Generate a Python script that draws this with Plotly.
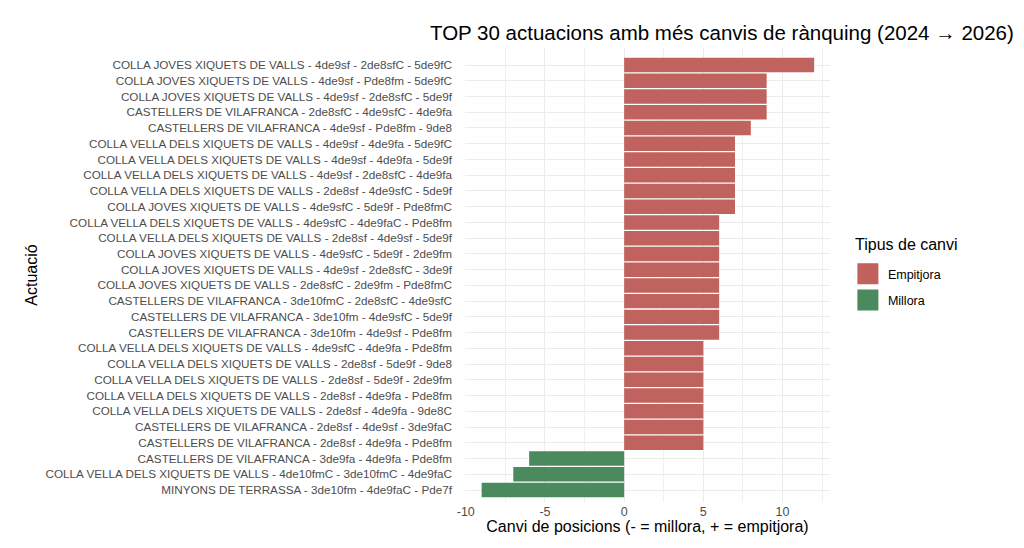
import plotly.graph_objects as go

# actuacions (de dalt a baix) i canvi de posicions
actuacions = [
    "COLLA JOVES XIQUETS DE VALLS - 4de9sf - 2de8sfC - 5de9fC",
    "COLLA JOVES XIQUETS DE VALLS - 4de9sf - Pde8fm - 5de9fC",
    "COLLA JOVES XIQUETS DE VALLS - 4de9sf - 2de8sfC - 5de9f",
    "CASTELLERS DE VILAFRANCA - 2de8sfC - 4de9sfC - 4de9fa",
    "CASTELLERS DE VILAFRANCA - 4de9sf - Pde8fm - 9de8",
    "COLLA VELLA DELS XIQUETS DE VALLS - 4de9sf - 4de9fa - 5de9fC",
    "COLLA VELLA DELS XIQUETS DE VALLS - 4de9sf - 4de9fa - 5de9f",
    "COLLA VELLA DELS XIQUETS DE VALLS - 4de9sf - 2de8sfC - 4de9fa",
    "COLLA VELLA DELS XIQUETS DE VALLS - 2de8sf - 4de9sfC - 5de9f",
    "COLLA JOVES XIQUETS DE VALLS - 4de9sfC - 5de9f - Pde8fmC",
    "COLLA VELLA DELS XIQUETS DE VALLS - 4de9sfC - 4de9faC - Pde8fm",
    "COLLA VELLA DELS XIQUETS DE VALLS - 2de8sf - 4de9sf - 5de9f",
    "COLLA JOVES XIQUETS DE VALLS - 4de9sfC - 5de9f - 2de9fm",
    "COLLA JOVES XIQUETS DE VALLS - 4de9sf - 2de8sfC - 3de9f",
    "COLLA JOVES XIQUETS DE VALLS - 2de8sfC - 2de9fm - Pde8fmC",
    "CASTELLERS DE VILAFRANCA - 3de10fmC - 2de8sfC - 4de9sfC",
    "CASTELLERS DE VILAFRANCA - 3de10fm - 4de9sfC - 5de9f",
    "CASTELLERS DE VILAFRANCA - 3de10fm - 4de9sf - Pde8fm",
    "COLLA VELLA DELS XIQUETS DE VALLS - 4de9sfC - 4de9fa - Pde8fm",
    "COLLA VELLA DELS XIQUETS DE VALLS - 2de8sf - 5de9f - 9de8",
    "COLLA VELLA DELS XIQUETS DE VALLS - 2de8sf - 5de9f - 2de9fm",
    "COLLA VELLA DELS XIQUETS DE VALLS - 2de8sf - 4de9fa - Pde8fm",
    "COLLA VELLA DELS XIQUETS DE VALLS - 2de8sf - 4de9fa - 9de8C",
    "CASTELLERS DE VILAFRANCA - 2de8sf - 4de9sf - 3de9faC",
    "CASTELLERS DE VILAFRANCA - 2de8sf - 4de9fa - Pde8fm",
    "CASTELLERS DE VILAFRANCA - 3de9fa - 4de9fa - Pde8fm",
    "COLLA VELLA DELS XIQUETS DE VALLS - 4de10fmC - 3de10fmC - 4de9faC",
    "MINYONS DE TERRASSA - 3de10fm - 4de9faC - Pde7f",
]
canvi = [12, 9, 9, 9, 8, 7, 7, 7, 7, 7, 6, 6, 6, 6, 6, 6, 6, 6,
         5, 5, 5, 5, 5, 5, 5, -6, -7, -9]

tipus = ["Empitjora", "Millora"]
colors = {"Empitjora": "#C0625E", "Millora": "#4A8A5C"}

FONT = "Liberation Sans, Arial, sans-serif"

fig = go.Figure()

for t in tipus:
    ys = [a for a, c in zip(actuacions, canvi) if (c > 0) == (t == "Empitjora")]
    xs = [c for c in canvi if (c > 0) == (t == "Empitjora")]
    fig.add_trace(go.Bar(
        x=xs, y=ys, orientation="h", name=t,
        marker=dict(color=colors[t], line=dict(width=0)),
        showlegend=False
    ))
    # legend-only entry with a bigger square swatch
    fig.add_trace(go.Scatter(
        x=[None], y=[None], mode="markers", name=t, legendgroup=t,
        marker=dict(symbol="square", size=16, color=colors[t],
                    line=dict(color=colors[t], width=5)),
        showlegend=True
    ))

fig.update_layout(
    width=1024, height=548,
    margin=dict(l=465, r=194, t=48, b=46),
    plot_bgcolor="white", paper_bgcolor="white",
    font=dict(family=FONT, color="black"),
    bargap=0.08,
    title=dict(
        text="TOP 30 actuacions amb més canvis de rànquing (2024 → 2026)",
        xref="container", x=0.705, xanchor="center",
        yref="container", y=1 - 33 / 548, yanchor="middle",
        font=dict(size=20.5, color="black")
    ),
    legend=dict(
        font=dict(size=12.5),
        x=1.049, xanchor="left", y=0.535, yanchor="top",
        itemsizing="trace", tracegroupgap=7
    ),
    annotations=[dict(
        text="Tipus de canvi", xref="paper", yref="paper",
        x=1.063, y=0.568, xanchor="left", yanchor="middle",
        showarrow=False, font=dict(size=16, color="black")
    )],
)

fig.update_xaxes(
    range=[-10.05, 13.0],
    tickvals=[-10, -5, 0, 5, 10],
    ticktext=["-10", "-5", "0", "5", "10"],
    tickfont=dict(size=12.5, color="#4D4D4D"),
    showgrid=True, gridcolor="#EBEBEB", gridwidth=1,
    minor=dict(dtick=2.5, tick0=0, showgrid=True, gridcolor="#F0F0F0", gridwidth=0.6),
    zeroline=False, showline=False, ticks="",
    title=dict(text="Canvi de posicions (- = millora, + = empitjora)",
               font=dict(size=16), standoff=1),
)

fig.update_yaxes(
    type="category",
    categoryorder="array", categoryarray=actuacions[::-1],
    range=[-0.76, len(actuacions) - 1 + 1.08],
    tickfont=dict(size=11.7, color="#4D4D4D"),
    showgrid=True, gridcolor="#EBEBEB", gridwidth=1,
    zeroline=False, showline=False, ticks="",
    ticklabelstandoff=12,
    title=dict(text="Actuació", font=dict(size=16), standoff=3),
)

fig.write_html("out.html", config={"displayModeBar": False},
               post_script="document.body.style.margin='0';")
